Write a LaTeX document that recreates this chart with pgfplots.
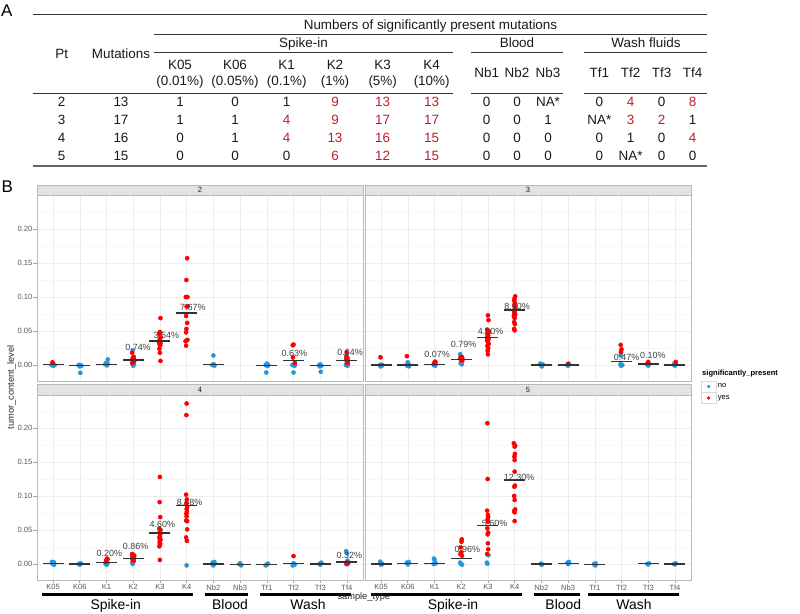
\documentclass[border=0pt]{standalone}
\usepackage{pgfplots}
\pgfplotsset{compat=1.18}
\usepackage{fontspec}
\setmainfont{Liberation Sans}
\definecolor{ptred}{RGB}{255,0,0}
\definecolor{ptblue}{RGB}{41,150,220}
\definecolor{tabred}{RGB}{192,30,40}
\pgfplotsset{
  panel/.style={
    scale only axis, width=326bp, anchor=south west,
    xmin=0.4, xmax=12.6, ymin=-0.0235,
    xtick={1,...,12}, ytick={0,0.05,0.1,0.15,0.2},
    minor ytick={0.025,0.075,0.125,0.175,0.225},
    xmajorgrids, ymajorgrids, yminorgrids,
    major grid style={draw=gray!14, line width=0.5bp},
    minor grid style={draw=gray!6, line width=0.4bp},
    axis line style={draw=gray!55, line width=0.8bp},
    tick align=outside, major tick length=3.5bp, minor tick length=0bp,
    tick style={draw=gray!70, line width=0.6bp},
    xtick pos=bottom, ytick pos=left,
    xticklabel style={font=\fontsize{7.6}{8}\selectfont, text=black!65, inner sep=1bp},
    yticklabel style={font=\fontsize{7.6}{8}\selectfont, text=black!65, inner sep=1bp},
  },
  ptop/.style={height=186bp, ymax=0.25, xticklabels={}, xtick style={draw=none}},
  pbot/.style={height=185bp, ymax=0.2485, xticklabels={K05,K06,K1,K2,K3,K4,Nb2,Nb3,Tf1,Tf2,Tf3,Tf4}},
  pleft/.style={yticklabels={0.00,0.05,0.10,0.15,0.20}},
  pright/.style={yticklabels={}, ytick style={draw=none}},
  ptsno/.style={forget plot, only marks, mark=*, mark size=2.1bp, color=ptblue, mark options={draw=none, fill=ptblue}},
  ptsyes/.style={forget plot, only marks, mark=*, mark size=2.1bp, color=ptred, mark options={draw=none, fill=ptred}},
  med/.style={forget plot, only marks, mark=-, mark size=10.5bp, mark options={line width=1.3bp, draw=black!80}},
  lab/.style={forget plot, draw=none, nodes near coords, point meta=explicit symbolic,
    every node near coord/.append style={inner sep=0pt, font=\fontsize{9}{10}\selectfont, text=black!75}},
}
\tikzset{tb/.style={anchor=base, inner sep=0pt, font=\fontsize{13.5}{16}\selectfont, text=black!90}}
\newcommand\tn[3]{\node[tb] at (#1,#2) {#3};}
\newcommand\tr[3]{\node[tb,text=tabred] at (#1,#2) {#3};}
\begin{document}
\begin{tikzpicture}
\useasboundingbox (0,0) rectangle (800bp,614bp);

% ---------- Panel 2 ----------
\begin{axis}[panel, ptop, pleft, at={(37bp,233bp)}]
\addplot[ptsno] coordinates {
(0.95,0.000) (1.02,-0.001) (1.06,0.000) (1.0,0.001) (0.98,-0.0005) (1.04,0.0005)
(1.96,0.000) (2.04,-0.001) (2.0,-0.002) (1.98,0.000) (2.02,-0.0115) (2.06,-0.001)
(2.96,0.001) (3.04,0.002) (3.0,0.000) (3.05,0.0083) (2.98,0.003) (3.02,-0.0005)
(3.98,0.0216) (4.0,-0.001) (4.03,0.001) (3.97,0.002)
(7.0,0.014) (6.96,0.000) (7.04,-0.001) (7.02,0.001) (6.98,0.0005)
(8.96,0.000) (9.04,-0.001) (9.0,0.002) (8.98,-0.011) (9.02,-0.0015) (9.05,0.000)
(9.96,0.000) (10.04,-0.001) (10.0,-0.011) (9.98,0.000) (10.03,0.001)
(10.96,0.000) (11.04,-0.001) (11.0,0.001) (11.02,-0.010) (10.98,-0.002)
(11.96,0.000) (12.02,-0.001) (11.98,0.015) (12.04,0.001) (12.0,0.002)
};
\addplot[ptsyes] coordinates {
(0.98,0.004)
(3.96,0.018) (4.02,0.012) (3.98,0.010) (4.04,0.006) (4.0,0.004) (3.97,0.003) (4.03,0.008) (4.01,0.0115) (3.99,0.005)
(5.02,0.069) (5.0,0.0485) (4.98,0.046) (5.03,0.041) (5.0,0.038) (4.97,0.035) (5.02,0.032) (4.99,0.0305) (5.01,0.029) (4.98,0.024) (5.0,0.018) (5.02,0.006) (4.96,0.034)
(6.02,0.157) (5.99,0.125) (5.97,0.100) (6.03,0.100) (6.0,0.086) (5.98,0.072) (6.02,0.062) (5.99,0.053) (5.98,0.048) (6.03,0.037) (5.96,0.035) (5.98,0.0285) (6.04,0.0865)
(10.0,0.030) (9.97,0.029) (9.98,0.011) (10.05,0.003)
(11.99,0.019) (12.02,0.010) (11.97,0.008) (12.03,0.006) (12.0,0.004) (11.98,0.012) (12.02,0.003) (12.0,0.007)
};
\addplot[med] coordinates {(1,0.001) (2,-0.001) (3,0.001) (4,0.0074) (5,0.0354) (6,0.0767) (7,0.001) (9,-0.001) (10,0.0063) (11,-0.001) (12,0.0064)};
\addplot[lab] coordinates {(4.18,0.0210) [0.74\%] (5.24,0.0393) [3.54\%] (6.23,0.0799) [7.67\%] (10.03,0.0122) [0.63\%] (12.12,0.0137) [0.64\%]};
\end{axis}

% ---------- Panel 3 ----------
\begin{axis}[panel, ptop, pright, at={(365bp,233bp)},
  legend style={at={(axis description cs:1.0307,0.0016)}, anchor=north west, draw=none, fill=none,
    inner sep=0pt, outer sep=0pt, row sep=0pt, column sep=0pt,
    font=\fontsize{7.6}{8}\selectfont, nodes={inner sep=0pt}},
  legend cell align=left]
\addplot[ptsno] coordinates {
(0.96,0.000) (1.03,-0.001) (1.0,0.0005) (1.05,0.000) (0.98,-0.002)
(1.97,0.000) (2.02,0.002) (2.04,-0.002) (2.0,0.004) (1.98,-0.001)
(2.97,0.000) (3.03,-0.001) (3.0,0.001) (2.98,0.0005)
(3.96,0.016) (4.0,0.004) (3.98,0.0025) (4.04,0.006) (4.02,0.001)
(6.96,0.002) (7.03,0.000) (7.0,-0.001) (7.05,0.001) (7.02,-0.002)
(7.97,0.000) (8.03,0.001) (8.0,-0.001) (8.02,0.002)
(9.97,0.014) (10.0,0.000) (9.98,-0.001) (10.03,0.000) (9.96,0.001)
(10.97,0.000) (11.03,0.001) (11.0,-0.001)
(11.97,0.000) (12.03,0.001) (12.0,-0.001) (11.98,0.002)
};
\addplot[ptsyes] coordinates {
(0.98,0.0113) (1.97,0.013)
(3.02,0.005) (3.0,0.003) (3.04,0.004) (2.98,0.002)
(4.02,0.012) (4.0,0.011) (4.04,0.010) (3.98,0.009) (4.02,0.008) (4.0,0.0075) (3.97,0.0105) (4.03,0.0065) (3.99,0.0085)
(5.0,0.073) (5.02,0.066) (4.97,0.052) (5.03,0.050) (4.98,0.046) (5.01,0.043) (4.99,0.040) (5.02,0.038) (4.97,0.036) (5.0,0.034) (5.03,0.031) (4.98,0.028) (5.01,0.025) (4.99,0.021) (5.0,0.0157) (5.02,0.047) (4.97,0.041)
(6.02,0.101) (6.0,0.098) (5.98,0.095) (6.01,0.091) (5.99,0.088) (6.0,0.086) (6.02,0.083) (5.98,0.080) (6.0,0.078) (5.99,0.076) (6.02,0.074) (5.97,0.072) (6.0,0.069) (5.98,0.063) (6.01,0.060) (5.98,0.053) (6.0,0.051)
(8.0,0.0015)
(9.97,0.0295) (10.0,0.023) (9.98,0.019)
(11.0,0.0045) (10.98,0.003)
(12.03,0.0045)
};
\addplot[med] coordinates {(1,0.000) (2,0.000) (3,0.0007) (4,0.0082) (5,0.040) (6,0.081) (7,0.000) (8,0.000) (10,0.0048) (11,0.0013) (12,0.000)};
\addplot[lab] coordinates {(3.10,0.0113) [0.07\%] (4.09,0.0246) [0.79\%] (5.10,0.0441) [4.00\%] (6.09,0.0819) [8.10\%] (10.19,0.0063) [0.47\%] (11.17,0.0088) [0.10\%]};
\addlegendimage{ptblue, fill=ptblue, legend image code/.code={\draw[gray!30, fill=white, line width=0.5bp] (0bp,-5.5bp) rectangle (14.7bp,5.5bp); \fill (7.35bp,0bp) circle (1.5bp);}}
\addlegendentry{\hspace{1.6bp}no}
\addlegendimage{ptred, fill=ptred, legend image code/.code={\draw[gray!30, fill=white, line width=0.5bp] (0bp,-5.5bp) rectangle (14.7bp,5.5bp); \fill (7.35bp,0bp) circle (1.5bp);}}
\addlegendentry{\hspace{1.6bp}yes}
\end{axis}

% ---------- Panel 4 ----------
\begin{axis}[panel, pbot, pleft, at={(37bp,34bp)}]
\addplot[ptsno] coordinates {
(0.96,0.003) (1.02,0.002) (1.0,0.000) (1.04,-0.001) (0.98,0.001) (1.03,0.0025)
(1.97,0.000) (2.02,0.001) (2.0,-0.001) (2.04,0.0005)
(2.96,0.001) (3.02,0.000) (3.0,-0.001) (3.04,0.0015)
(3.97,0.002) (3.98,0.000) (4.02,0.004)
(6.0,-0.002)
(6.97,0.002) (7.02,0.000) (7.0,-0.002) (7.04,0.003) (6.98,-0.001)
(7.97,0.000) (8.02,-0.001) (8.0,0.001) (8.04,-0.002)
(8.96,-0.002) (9.02,0.000) (9.0,-0.001) (9.04,0.0005)
(9.97,-0.002) (10.02,0.000) (10.0,0.001) (10.04,-0.001)
(10.97,0.000) (11.02,0.001) (11.0,-0.001) (11.04,0.002)
(11.97,0.019) (12.0,0.016) (12.02,0.005) (11.98,0.000) (12.04,0.001)
};
\addplot[ptsyes] coordinates {
(3.02,0.008) (3.0,0.006) (3.04,0.007) (2.98,0.003)
(3.96,0.0147) (4.0,0.0135) (4.04,0.0125) (3.98,0.012) (4.02,0.011) (4.0,0.010) (3.97,0.009) (4.03,0.0085) (3.99,0.008) (4.01,0.007) (3.98,0.006) (4.02,0.005) (4.0,0.0115)
(5.0,0.128) (4.99,0.091) (5.01,0.069) (4.98,0.052) (5.02,0.050) (4.99,0.046) (5.01,0.044) (5.0,0.041) (4.98,0.039) (5.02,0.036) (5.0,0.035) (4.99,0.032) (5.01,0.030) (5.0,0.029) (4.98,0.026) (5.0,0.006)
(6.0,0.236) (5.99,0.219) (5.98,0.102) (6.01,0.095) (5.99,0.089) (6.02,0.084) (6.0,0.081) (6.01,0.077) (5.99,0.074) (6.0,0.070) (5.98,0.064) (6.02,0.063) (6.02,0.051) (5.98,0.039) (6.01,0.034)
(10.0,0.0117)
(12.0,0.002) (11.98,0.001) (12.03,0.0015) (12.01,0.000)
};
\addplot[med] coordinates {(1,0.001) (2,0.000) (3,0.0024) (4,0.0080) (5,0.0456) (6,0.0858) (7,0.000) (8,-0.0005) (9,-0.0005) (10,0.0005) (11,0.000) (12,0.0029)};
\addplot[lab] coordinates {(3.11,0.0107) [0.20\%] (4.09,0.0206) [0.86\%] (5.09,0.0540) [4.60\%] (6.11,0.0857) [8.58\%] (12.09,0.0084) [0.32\%]};
\end{axis}

% ---------- Panel 5 ----------
\begin{axis}[panel, pbot, pright, at={(365bp,34bp)}]
\addplot[ptsno] coordinates {
(0.97,0.0034) (1.02,0.001) (1.0,-0.001) (1.04,0.000) (0.98,0.002)
(1.97,0.002) (2.02,0.001) (2.0,-0.0005) (2.04,0.003)
(2.98,0.008) (3.0,0.006) (3.02,0.002) (2.97,0.000) (3.04,0.001)
(3.96,0.002) (4.0,0.000) (4.03,-0.001) (3.98,0.001)
(5.02,0.013) (4.96,0.002) (4.98,0.0005)
(6.98,0.000) (7.02,-0.001) (7.0,0.0005)
(7.98,0.002) (8.03,0.003) (8.0,0.000) (8.02,0.001)
(8.97,0.000) (9.02,-0.002) (9.0,-0.001) (9.03,0.001)
(10.97,0.000) (11.02,0.001) (11.0,-0.0005)
(11.97,0.000) (12.02,0.001) (12.0,-0.0005)
};
\addplot[ptsyes] coordinates {
(4.02,0.0363) (4.01,0.0328) (3.98,0.0245) (4.0,0.0172) (3.97,0.0147) (4.03,0.0123)
(4.98,0.207) (4.99,0.125) (4.97,0.0784) (5.0,0.0721) (5.01,0.0696) (4.99,0.0657) (5.0,0.0623) (4.98,0.0525) (5.01,0.0461) (4.99,0.0436) (5.0,0.0304) (5.01,0.0216) (4.97,0.0147)
(5.97,0.1775) (6.02,0.1740) (6.0,0.1726) (6.01,0.1618) (5.99,0.1578) (6.0,0.1529) (6.0,0.1358) (6.01,0.1152) (5.99,0.1137) (5.98,0.1000) (6.0,0.0941) (6.02,0.0804) (5.98,0.0779) (6.0,0.0760) (6.0,0.0632)
};
\addplot[med] coordinates {(1,0.000) (2,0.0005) (3,0.0005) (4,0.0085) (5,0.0564) (6,0.1235) (7,0.000) (8,0.001) (9,-0.0005) (11,0.0005) (12,0.000)};
\addplot[lab] coordinates {(4.23,0.0166) [0.96\%] (5.25,0.0549) [5.60\%] (6.17,0.1225) [12.30\%]};
\end{axis}

% ---------- overlay in pixel coordinates ----------
\begin{scope}[x=1bp, y=-1bp, yshift=614bp]
% strips
\foreach \xa/\xb/\ya/\yb/\t in {37/363/185/195/2, 365/691/185/195/3, 37/363/384.5/395/4, 365/691/384.5/395/5}{
  \filldraw[fill=gray!22, draw=gray!55, line width=0.8bp] (\xa,\ya) rectangle (\xb,\yb);
  \node[font=\fontsize{7.6}{8}\selectfont, text=black!90, inner sep=0pt] at ({(\xa+\xb)/2},{(\ya+\yb)/2}) {\t};
}
% legend title
\node[anchor=west, inner sep=0pt, font=\fontsize{7.6}{8}\selectfont\bfseries] at (702,373.3) {significantly\_present};
% axis titles
\node[rotate=90, inner sep=0pt, font=\fontsize{9.3}{10}\selectfont, text=black!85] at (11.5,387.5) {tumor\_content\_level};
% group bars
\foreach \xa/\xb in {41.7/193.3, 205/247.7, 260/351, 370.7/522, 534/580, 588/679}{
  \draw[line width=2.6bp, black] (\xa,594.7) -- (\xb,594.7);
}
\foreach \xc/\t in {115.7/Spike-in, 230/Blood, 308/Wash, 453/Spike-in, 563.3/Blood, 634/Wash}{
  \node[anchor=base, inner sep=0pt, font=\fontsize{14}{16}\selectfont] at (\xc,609.3) {\t};
}
\node[inner sep=0pt, font=\fontsize{9.3}{10}\selectfont, text=black!85] at (363.8,596.7) {sample\_type};
% panel letters
\node[anchor=base west, inner sep=0pt, font=\fontsize{17}{18}\selectfont] at (1,17) {A};
\node[anchor=base west, inner sep=0pt, font=\fontsize{17}{18}\selectfont] at (1.5,193) {B};
% ---------- table ----------
\draw[black!80, line width=1.2bp] (33.3,14.7) -- (707.3,14.7);
\draw[black!80, line width=0.9bp] (154,34.3) -- (707.3,34.3);
\draw[black!80, line width=0.9bp] (154,52.3) -- (453.3,52.3);
\draw[black!80, line width=0.9bp] (471,52.3) -- (563.3,52.3);
\draw[black!80, line width=0.9bp] (584.3,52.3) -- (707.3,52.3);
\draw[black!80, line width=0.9bp] (33.3,93.3) -- (453.3,93.3);
\draw[black!80, line width=0.9bp] (471,93.3) -- (563.3,93.3);
\draw[black!80, line width=0.9bp] (584.3,93.3) -- (707.3,93.3);
\draw[black!60, line width=1.6bp] (33.3,166) -- (707.3,166);
\tn{430.5}{29.3}{Numbers of significantly present mutations}
\tn{303.5}{47.8}{Spike-in}
\tn{517}{47.8}{Blood}
\tn{646}{47.8}{Wash fluids}
\tn{61.7}{58.3}{Pt}
\tn{121}{58.3}{Mutations}
\tn{180}{69.3}{K05}\tn{180}{86}{(0.01\%)}
\tn{235}{69.3}{K06}\tn{235}{86}{(0.05\%)}
\tn{286.7}{69.3}{K1}\tn{286.7}{86}{(0.1\%)}
\tn{335}{69.3}{K2}\tn{335}{86}{(1\%)}
\tn{382.7}{69.3}{K3}\tn{382.7}{86}{(5\%)}
\tn{431.7}{69.3}{K4}\tn{431.7}{86}{(10\%)}
\tn{486.7}{77.5}{Nb1}\tn{517}{77.5}{Nb2}\tn{548}{77.5}{Nb3}
\tn{599.3}{77.5}{Tf1}\tn{630.7}{77.5}{Tf2}\tn{661.7}{77.5}{Tf3}\tn{692.7}{77.5}{Tf4}
% row Pt 2
\tn{61.7}{106.3}{2}\tn{121}{106.3}{13}
\tn{180}{106.3}{1}\tn{235}{106.3}{0}\tn{286.7}{106.3}{1}\tr{335}{106.3}{9}\tr{382.7}{106.3}{13}\tr{431.7}{106.3}{13}
\tn{486.7}{106.3}{0}\tn{517}{106.3}{0}\tn{548}{106.3}{NA*}
\tn{599.3}{106.3}{0}\tr{630.7}{106.3}{4}\tn{661.7}{106.3}{0}\tr{692.7}{106.3}{8}
% row Pt 3
\tn{61.7}{124.5}{3}\tn{121}{124.5}{17}
\tn{180}{124.5}{1}\tn{235}{124.5}{1}\tr{286.7}{124.5}{4}\tr{335}{124.5}{9}\tr{382.7}{124.5}{17}\tr{431.7}{124.5}{17}
\tn{486.7}{124.5}{0}\tn{517}{124.5}{0}\tn{548}{124.5}{1}
\tn{599.3}{124.5}{NA*}\tr{630.7}{124.5}{3}\tr{661.7}{124.5}{2}\tn{692.7}{124.5}{1}
% row Pt 4
\tn{61.7}{142.8}{4}\tn{121}{142.8}{16}
\tn{180}{142.8}{0}\tn{235}{142.8}{1}\tr{286.7}{142.8}{4}\tr{335}{142.8}{13}\tr{382.7}{142.8}{16}\tr{431.7}{142.8}{15}
\tn{486.7}{142.8}{0}\tn{517}{142.8}{0}\tn{548}{142.8}{0}
\tn{599.3}{142.8}{0}\tn{630.7}{142.8}{1}\tn{661.7}{142.8}{0}\tr{692.7}{142.8}{4}
% row Pt 5
\tn{61.7}{161}{5}\tn{121}{161}{15}
\tn{180}{161}{0}\tn{235}{161}{0}\tn{286.7}{161}{0}\tr{335}{161}{6}\tr{382.7}{161}{12}\tr{431.7}{161}{15}
\tn{486.7}{161}{0}\tn{517}{161}{0}\tn{548}{161}{0}
\tn{599.3}{161}{0}\tn{630.7}{161}{NA*}\tn{661.7}{161}{0}\tn{692.7}{161}{0}
\end{scope}
\end{tikzpicture}
\end{document}
